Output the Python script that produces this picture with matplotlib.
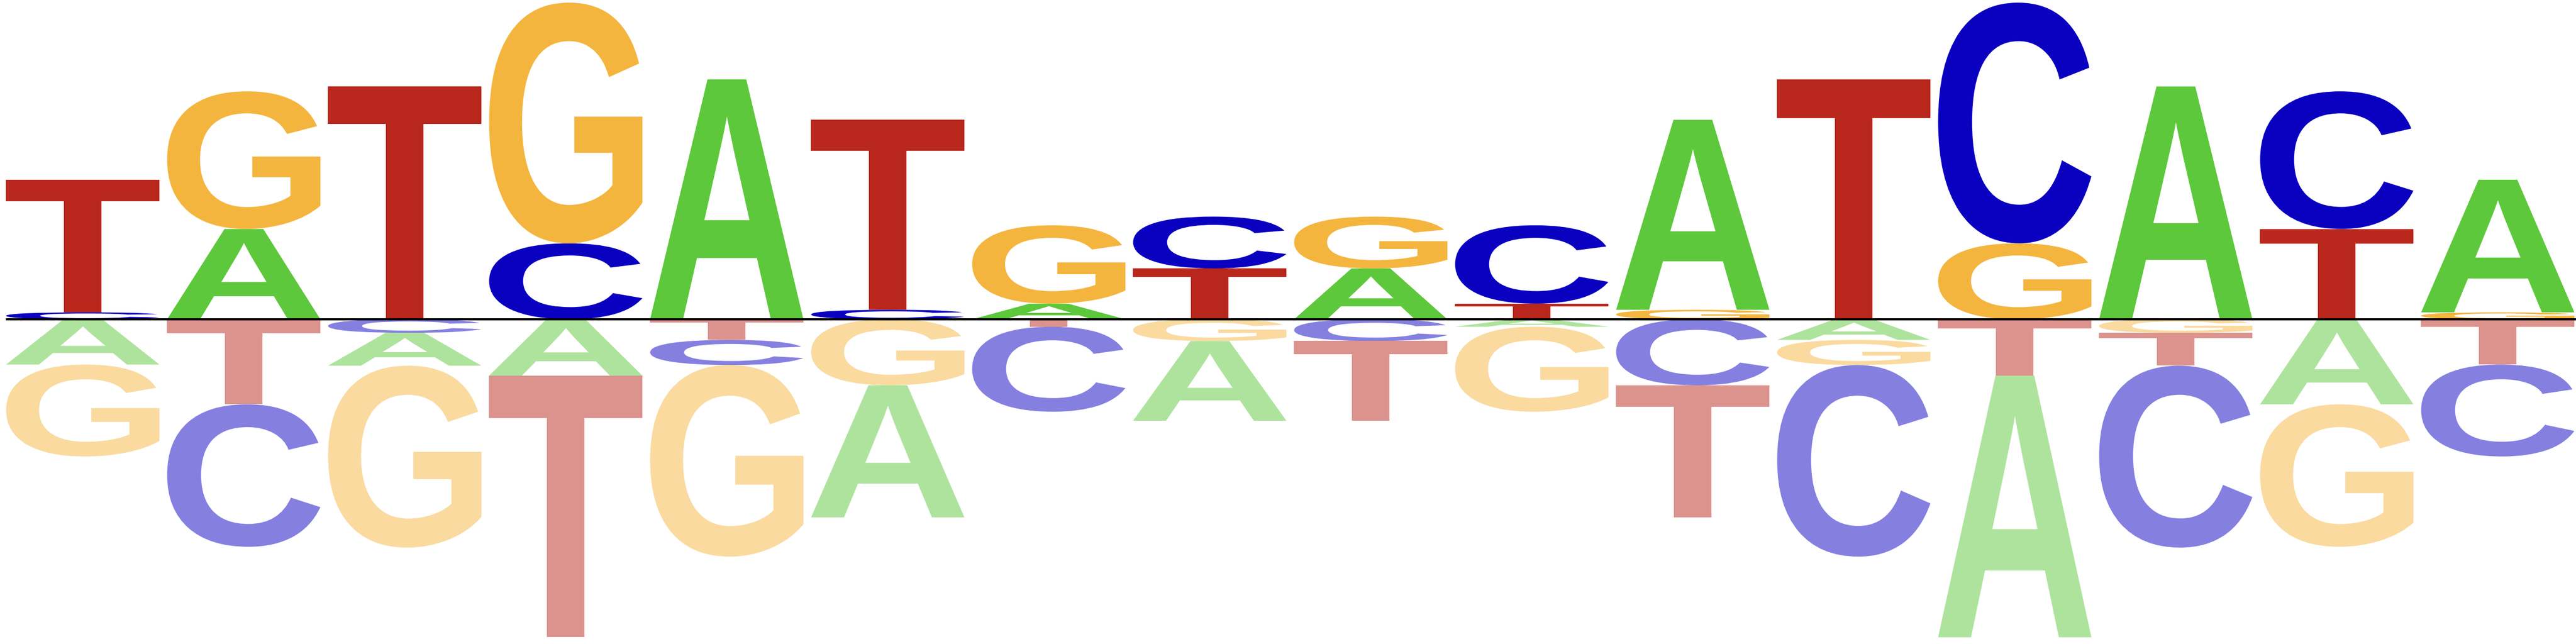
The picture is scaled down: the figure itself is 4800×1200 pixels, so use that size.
import matplotlib
matplotlib.use('Agg')
import matplotlib.pyplot as plt
from matplotlib.textpath import TextPath
from matplotlib.font_manager import FontProperties
from matplotlib.patches import PathPatch
from matplotlib.transforms import Affine2D
from matplotlib.colors import to_rgb

# ---- data (logo heights; positive = above baseline, negative = below) ----
positions = list(range(16))
letters = ['A', 'C', 'G', 'T']
A_vals = [-0.281, 0.561, -0.204, -0.350, 1.490, -0.820, 0.097, -0.495,
          0.316, -0.046, 1.180, -0.128, -1.625, 1.446, -0.528, 0.824]
C_vals = [0.043, -0.885, -0.084, 0.472, -0.156, 0.059, -0.528, 0.322,
          -0.135, 0.487, -0.410, -1.190, 1.495, -1.130, 0.855, -0.571]
G_vals = [-0.571, 0.855, -1.130, 1.495, -1.190, -0.410, 0.487, -0.135,
          0.322, -0.528, 0.059, -0.156, 0.472, -0.084, -0.885, 0.043]
T_vals = [0.824, -0.528, 1.446, -1.625, -0.128, 1.180, -0.046, 0.316,
          -0.495, 0.097, -0.820, 1.490, -0.350, -0.204, 0.561, -0.281]

colors = {'A': '#5DC83B', 'C': '#0A00C0', 'G': '#F4B53F', 'T': '#B8261C'}
fade_below = 0.5
letter_width = 0.952

fp = FontProperties(family='Liberation Sans', weight='bold')


def faded(c, f):
    r, g, b = to_rgb(c)
    return (r * (1 - f) + f, g * (1 - f) + f, b * (1 - f) + f)


def draw_glyph(ax, ch, x0, y0, w, h, color):
    if h <= 0:
        return
    tp = TextPath((0, 0), ch, size=1, prop=fp)
    ext = tp.get_extents()
    tr = (Affine2D().translate(-ext.x0, -ext.y0)
          .scale(w / ext.width, h / ext.height)
          .translate(x0, y0))
    path = tr.transform_path(tp)
    ax.add_patch(PathPatch(path, facecolor=color, edgecolor='none', lw=0, zorder=2))


fig = plt.figure(figsize=(16, 4), dpi=300)
ax = fig.add_axes([0, 0, 1, 1])

vals = {'A': A_vals, 'C': C_vals, 'G': G_vals, 'T': T_vals}
for i in positions:
    col = [(l, vals[l][i]) for l in letters]
    pos = sorted([c for c in col if c[1] > 0], key=lambda t: t[1])
    neg = sorted([c for c in col if c[1] < 0], key=lambda t: -t[1])
    x0 = i - letter_width / 2
    y = 0.0
    for l, v in pos:
        draw_glyph(ax, l, x0, y, letter_width, v, colors[l])
        y += v
    y = 0.0
    for l, v in neg:
        draw_glyph(ax, l, x0, y + v, letter_width, -v, faded(colors[l], fade_below))
        y += v

ax.plot([-letter_width / 2, 15.7], [0, 0], color='black', lw=0.96,
        solid_capstyle='butt', zorder=5)

ax.set_xlim(-0.514, 15.486)
ax.set_ylim(-2.0167, 1.9833)
ax.axis('off')

fig.savefig('out.png', dpi=300)
